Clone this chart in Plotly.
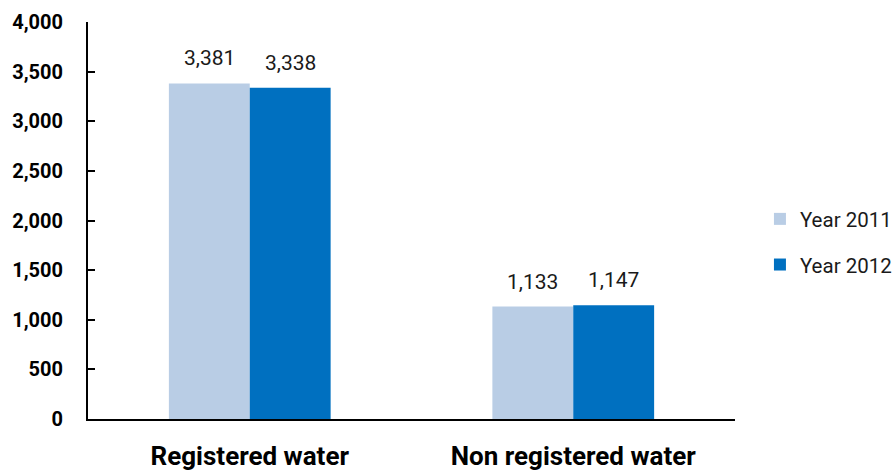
import plotly.graph_objects as go

categories = ["Registered water", "Non registered water"]
series_names = ["Year 2011", "Year 2012"]
values_2011 = [3381, 1133]
values_2012 = [3338, 1147]
y_ticks = [0, 500, 1000, 1500, 2000, 2500, 3000, 3500, 4000]

colors = ["#B9CDE5", "#0070C0"]
FONT = "Roboto"

fig = go.Figure()
for name, vals, col in zip(series_names, [values_2011, values_2012], colors):
    fig.add_trace(go.Bar(x=categories, y=vals, name=name, marker_color=col,
                         marker_line_width=0, legendgroup=name))

# data labels
for shift, vals in zip([-40.5, 40.5], [values_2011, values_2012]):
    for c, v in zip(categories, vals):
        fig.add_annotation(x=c, y=v, text=f"{v:,}", showarrow=False,
                           xshift=shift, yshift=11, yanchor="bottom",
                           font=dict(family=FONT, size=21, color="#1a1a1a"))

fig.update_layout(
    width=893, height=470,
    margin=dict(l=88, r=158, t=22, b=51, autoexpand=False),
    paper_bgcolor="white", plot_bgcolor="white",
    barmode="group", bargap=0.5, bargroupgap=0,
    font=dict(family=FONT, color="black"),
    showlegend=True,
    legend=dict(xref="container", yref="container", x=0.851, y=0.485,
                xanchor="left", yanchor="middle",
                font=dict(family=FONT, size=20.5, color="#1a1a1a"),
                itemwidth=30, tracegroupgap=16, bgcolor="rgba(0,0,0,0)"),
    xaxis=dict(showline=True, linecolor="black", linewidth=2, ticks="",
               ticklabelstandoff=13,
               tickfont=dict(family=FONT, size=26, color="black", weight="bold"),
               showgrid=False, zeroline=False),
    yaxis=dict(range=[0, 4000], tickvals=y_ticks, tickformat=",",
               showline=True, linecolor="black", linewidth=2,
               ticks="inside", ticklen=7, tickwidth=2, tickcolor="black",
               ticklabelstandoff=19,
               tickfont=dict(family=FONT, size=20, color="black", weight="bold"),
               showgrid=False, zeroline=False),
)

fig.write_html("out.html")
